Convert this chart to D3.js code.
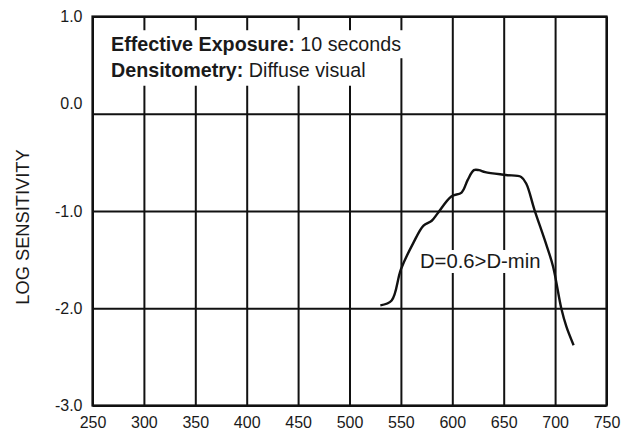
<!DOCTYPE html>
<html>
<head>
<meta charset="utf-8">
<script src="https://cdn.jsdelivr.net/npm/d3@7"></script>
<style>
  body { margin: 0; background: #fff; }
  text { font-family: "Liberation Sans", Arial, sans-serif; fill: #1a1a1a; }
</style>
</head>
<body>
<svg></svg>
<script>
// spectral sensitivity curve
var wavelength = [530, 541, 550, 562, 572, 580, 586, 599, 609, 615, 621, 626, 632, 652, 667, 672, 680, 690, 698, 706, 711, 718]
var logSens    = [-1.97, -1.92, -1.60, -1.33, -1.15, -1.10, -1.02, -0.85, -0.81, -0.68, -0.58, -0.58, -0.60, -0.63, -0.65, -0.72, -0.99, -1.30, -1.57, -2.00, -2.19, -2.38]

var xTicks = [250, 300, 350, 400, 450, 500, 550, 600, 650, 700, 750]
var yTicks = [1.0, 0.0, -1.0, -2.0, -3.0]
var headerLines = [
  {bold: 'Effective Exposure:', rest: ' 10 seconds'},
  {bold: 'Densitometry:', rest: ' Diffuse visual'}
]
var curveLabel = 'D=0.6>D-min'

var width = 635
var height = 432
var margin = {top: 16.5, right: 28.5, bottom: 26.5, left: 92.5}
var innerW = width - margin.left - margin.right
var innerH = height - margin.top - margin.bottom

var svg = d3.select('svg')
    .attr('width', width)
    .attr('height', height)

var g = svg.append('g')
    .attr('transform', 'translate(' + margin.left + ',' + margin.top + ')')

var x = d3.scaleLinear().domain([250, 750]).range([0, innerW])
var y = d3.scaleLinear().domain([-3, 1]).range([innerH, 0])

// grid + labels via axes
var xAxis = g.append('g')
    .attr('transform', 'translate(0,' + innerH + ')')
    .call(d3.axisBottom(x).tickValues(xTicks).tickSize(-innerH).tickPadding(11).tickFormat(d3.format('d')))
xAxis.select('.domain').remove()
xAxis.selectAll('line').attr('stroke', '#111').attr('stroke-width', 2)
xAxis.selectAll('text').style('font-size', '16px').attr('fill', '#1a1a1a')

var yAxis = g.append('g')
    .call(d3.axisLeft(y).tickValues(yTicks).tickSize(-innerW).tickPadding(10).tickFormat(d => d.toFixed(1)))
yAxis.select('.domain').remove()
yAxis.selectAll('line').attr('stroke', '#111').attr('stroke-width', 2)
yAxis.selectAll('text')
    .style('font-size', '16px')
    .attr('fill', '#1a1a1a')
    .attr('dy', d => d === 0 ? '-0.35em' : '0.32em')

// header text, white backed
var header = g.append('g')
headerLines.forEach(function(line, i) {
  var t = header.append('text')
      .attr('x', x(268))
      .attr('y', y(0.648) + i * 26.7)
      .style('font-size', '19.7px')
  t.append('tspan').attr('font-weight', 'bold').text(line.bold)
  t.append('tspan').text(line.rest)
  var bb = t.node().getBBox()
  header.insert('rect', 'text')
      .attr('x', bb.x - 14)
      .attr('y', y(0.648) - 20.5 + i * 27.5)
      .attr('width', bb.width + 17)
      .attr('height', 28)
      .attr('fill', '#fff')
})

// curve label, white backed
var lab = g.append('text')
    .attr('x', x(568.5))
    .attr('y', y(-1.586))
    .style('font-size', '20.3px')
    .attr('fill', '#333')
    .text(curveLabel)
var lbb = lab.node().getBBox()
g.insert('rect', function() { return lab.node() })
    .attr('x', lbb.x - 2)
    .attr('y', lbb.y)
    .attr('width', lbb.width + 4)
    .attr('height', lbb.height + 1)
    .attr('fill', '#fff')

// frame
g.append('rect')
    .attr('width', innerW)
    .attr('height', innerH)
    .attr('fill', 'none')
    .attr('stroke', '#111')
    .attr('stroke-width', 2.2)

var pts = wavelength.map((w, i) => [w, logSens[i]])
g.append('path')
    .datum(pts)
    .attr('fill', 'none')
    .attr('stroke', '#111')
    .attr('stroke-width', 2.4)
    .attr('stroke-linejoin', 'round')
    .attr('d', d3.line().x(d => x(d[0])).y(d => y(d[1])).curve(d3.curveCatmullRom.alpha(0.5)))

svg.append('text')
    .attr('transform', 'rotate(-90)')
    .attr('x', -227)
    .attr('y', 29)
    .style('text-anchor', 'middle')
    .style('font-size', '18.3px')
    .attr('fill', '#333')
    .text('LOG SENSITIVITY')
</script>
</body>
</html>
